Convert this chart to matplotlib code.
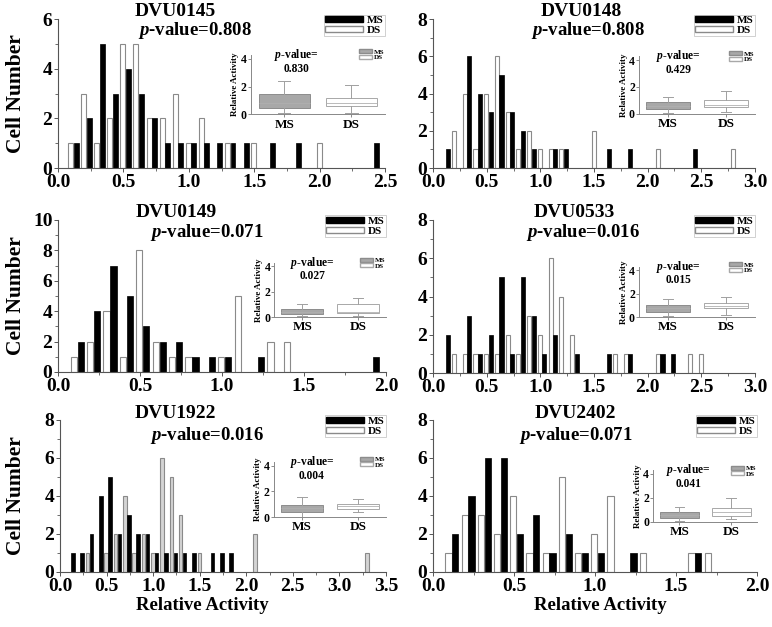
import matplotlib
matplotlib.use('Agg')
import matplotlib.pyplot as plt
from matplotlib.patches import Patch
import numpy as np

plt.rcParams['font.family'] = ['Liberation Serif', 'DejaVu Serif']
plt.rcParams['font.weight'] = 'bold'
plt.rcParams['mathtext.fontset'] = 'custom'
plt.rcParams['mathtext.it'] = 'Liberation Serif:italic:bold'
plt.rcParams['mathtext.rm'] = 'Liberation Serif:bold'
plt.rcParams['mathtext.bf'] = 'Liberation Serif:bold'

# ---------------- data ----------------
gene_names = ["DVU0145", "DVU0148", "DVU0149", "DVU0533", "DVU1922", "DVU2402"]
hist_pvalues = ["0.808", "0.808", "0.071", "0.016", "0.016", "0.071"]
box_pvalues = ["0.830", "0.429", "0.027", "0.015", "0.004", "0.041"]
x_max = [2.5, 3.0, 2.0, 3.0, 3.5, 2.0]
y_max = [6, 8, 10, 8, 8, 8]

ms_bins_0145 = [0.1, 0.2, 0.3, 0.4, 0.5, 0.6, 0.7, 0.8, 0.9, 1.0, 1.1, 1.2, 1.3, 1.4, 1.6, 1.8, 2.4]
ms_counts_0145 = [1, 2, 5, 3, 4, 3, 2, 1, 1, 1, 1, 1, 1, 1, 1, 1, 1]
ds_bins_0145 = [0.1, 0.2, 0.3, 0.4, 0.5, 0.6, 0.7, 0.8, 0.9, 1.0, 1.1, 1.3, 1.5, 2.0]
ds_counts_0145 = [1, 3, 1, 2, 5, 5, 2, 2, 3, 1, 2, 1, 1, 1]

ms_bins_0148 = [0.1, 0.3, 0.4, 0.5, 0.6, 0.7, 0.8, 0.9, 1.1, 1.2, 1.6, 1.8, 2.4]
ms_counts_0148 = [1, 6, 4, 3, 5, 3, 2, 1, 1, 1, 1, 1, 1]
ds_bins_0148 = [0.2, 0.3, 0.4, 0.5, 0.6, 0.7, 0.8, 0.9, 1.0, 1.1, 1.2, 1.5, 2.1, 2.8]
ds_counts_0148 = [2, 4, 1, 4, 6, 3, 1, 2, 1, 1, 1, 2, 1, 1]

ms_bins_0149 = [0.1, 0.2, 0.3, 0.4, 0.5, 0.6, 0.7, 0.8, 0.9, 1.0, 1.2, 1.9]
ms_counts_0149 = [2, 4, 7, 5, 3, 2, 2, 1, 1, 1, 1, 1]
ds_bins_0149 = [0.1, 0.2, 0.3, 0.4, 0.5, 0.6, 0.7, 0.8, 1.0, 1.1, 1.3, 1.4]
ds_counts_0149 = [1, 2, 4, 1, 8, 2, 1, 1, 1, 5, 2, 2]

ms_bins_0533 = [0.1, 0.3, 0.4, 0.5, 0.6, 0.7, 0.8, 0.9, 1.0, 1.1, 1.3, 1.6, 1.8, 2.1, 2.2]
ms_counts_0533 = [2, 3, 1, 2, 5, 1, 5, 3, 1, 2, 1, 1, 1, 1, 1]
ds_bins_0533 = [0.2, 0.3, 0.4, 0.5, 0.6, 0.7, 0.8, 0.9, 1.0, 1.1, 1.2, 1.3, 1.7, 1.8, 2.1, 2.4, 2.5]
ds_counts_0533 = [1, 1, 1, 1, 1, 2, 1, 3, 2, 6, 4, 2, 1, 1, 1, 1, 1]

ms_bins_1922 = [0.1, 0.2, 0.3, 0.4, 0.5, 0.6, 0.7, 0.8, 0.9, 1.0, 1.1, 1.2, 1.3, 1.4, 1.6, 1.7, 1.8]
ms_counts_1922 = [1, 1, 2, 4, 5, 2, 3, 2, 2, 1, 1, 1, 1, 1, 1, 1, 1]
ds_bins_1922 = [0.3, 0.5, 0.6, 0.7, 0.8, 0.9, 1.0, 1.1, 1.2, 1.3, 1.5, 2.1, 3.3]
ds_counts_1922 = [1, 1, 2, 4, 1, 2, 1, 6, 5, 3, 1, 2, 1]

ms_bins_2402 = [0.1, 0.2, 0.3, 0.4, 0.5, 0.6, 0.7, 0.8, 0.9, 1.0, 1.2, 1.6]
ms_counts_2402 = [2, 4, 6, 6, 2, 3, 1, 2, 1, 1, 1, 1]
ds_bins_2402 = [0.1, 0.2, 0.3, 0.4, 0.5, 0.6, 0.7, 0.8, 0.9, 1.0, 1.1, 1.3, 1.6, 1.7]
ds_counts_2402 = [1, 3, 3, 2, 4, 1, 1, 5, 1, 2, 4, 1, 1, 1]

# box stats: [whisker low, q1, median, q3, whisker high]
ms_box_0145 = [0.1, 0.48, 0.85, 1.45, 2.4]
ds_box_0145 = [0.1, 0.6, 0.85, 1.2, 2.15]
ms_box_0148 = [0.05, 0.38, 0.6, 0.9, 1.28]
ds_box_0148 = [0.13, 0.46, 0.62, 1.03, 1.67]
ms_box_0149 = [0.1, 0.26, 0.45, 0.65, 1.04]
ds_box_0149 = [0.13, 0.34, 0.44, 1.04, 1.48]
ms_box_0533 = [0.09, 0.43, 0.75, 1.06, 1.57]
ds_box_0533 = [0.2, 0.77, 0.95, 1.23, 1.7]
ms_box_1922 = [0.05, 0.38, 0.7, 0.93, 1.55]
ds_box_1922 = [0.38, 0.63, 0.85, 1.05, 1.45]
ms_box_2402 = [0.1, 0.36, 0.55, 0.82, 1.23]
ds_box_2402 = [0.27, 0.47, 0.82, 1.18, 2.0]

ms_bins = [ms_bins_0145, ms_bins_0148, ms_bins_0149, ms_bins_0533, ms_bins_1922, ms_bins_2402]
ms_counts = [ms_counts_0145, ms_counts_0148, ms_counts_0149, ms_counts_0533, ms_counts_1922, ms_counts_2402]
ds_bins = [ds_bins_0145, ds_bins_0148, ds_bins_0149, ds_bins_0533, ds_bins_1922, ds_bins_2402]
ds_counts = [ds_counts_0145, ds_counts_0148, ds_counts_0149, ds_counts_0533, ds_counts_1922, ds_counts_2402]
ms_boxes = [ms_box_0145, ms_box_0148, ms_box_0149, ms_box_0533, ms_box_1922, ms_box_2402]
ds_boxes = [ds_box_0145, ds_box_0148, ds_box_0149, ds_box_0533, ds_box_1922, ds_box_2402]

# ---------------- layout ----------------
W, H = 772, 627
fig = plt.figure(figsize=(W / 100, H / 100), dpi=100)

def fr(x0, x1, ytop, ybot):
    return [x0 / W, 1 - ybot / H, (x1 - x0) / W, (ybot - ytop) / H]

axes_rects = [fr(58, 385, 19, 168), fr(433, 755, 19, 168),
              fr(58, 386, 220, 372), fr(433, 755, 220, 373),
              fr(60, 386, 420, 572), fr(433, 757, 420, 572)]
inset_rects = [[0.59, 0.36, 0.41, 0.40], [0.64, 0.365, 0.36, 0.385],
               [0.66, 0.36, 0.34, 0.36], [0.64, 0.366, 0.36, 0.33],
               [0.655, 0.36, 0.345, 0.365], [0.68, 0.33, 0.32, 0.34]]
title_pos = [(0.36, 1.05), (0.46, 1.05), (0.36, 1.05), (0.44, 1.05), (0.355, 1.04), (0.44, 1.04)]
p_pos = [(0.42, 0.92), (0.48, 0.92), (0.455, 0.915), (0.465, 0.92), (0.45, 0.90), (0.44, 0.90)]
ds_faces = ['white', 'white', 'white', 'white', '#d4d4d4', 'white']

MS_OFF, DS_OFF, BW = 0.038, -0.004, 0.038

for i in range(6):
    ax = fig.add_axes(axes_rects[i])
    ax.bar(np.array(ds_bins[i]) + DS_OFF, ds_counts[i], width=BW, color=ds_faces[i],
           edgecolor='#8a8a8a', linewidth=0.8)
    ax.bar(np.array(ms_bins[i]) + MS_OFF, ms_counts[i], width=BW, color='black',
           edgecolor='black', linewidth=0.5)
    for s in ['top', 'right']:
        ax.spines[s].set_visible(False)
    for s in ['left', 'bottom']:
        ax.spines[s].set_color('#555555')
        ax.spines[s].set_linewidth(0.8)
    ax.set_xlim(0, x_max[i])
    ax.set_ylim(0, y_max[i])
    xt = np.arange(0, x_max[i] + 0.01, 0.5)
    ax.set_xticks(xt)
    ax.set_xticklabels([f'{v:.1f}' for v in xt], fontsize=14, fontweight='bold')
    ax.set_xticks(np.arange(0.25, x_max[i], 0.5), minor=True)
    yt = np.arange(0, y_max[i] + 1, 2)
    ax.set_yticks(yt)
    ax.set_yticklabels([str(v) for v in yt], fontsize=14, fontweight='bold')
    ax.set_yticks(np.arange(1, y_max[i], 2), minor=True)
    ax.tick_params(axis='both', which='major', length=3, width=0.7, colors='#555555',
                   labelcolor='black', pad=1)
    ax.tick_params(axis='both', which='minor', length=2, width=0.6, colors='#555555')

    ax.text(title_pos[i][0], title_pos[i][1], gene_names[i], transform=ax.transAxes,
            ha='center', va='center', fontsize=14, fontweight='bold')
    ax.text(p_pos[i][0], p_pos[i][1], r'$p$-value=' + hist_pvalues[i], transform=ax.transAxes,
            ha='center', va='center', fontsize=13.5, fontweight='bold')

    handles = [Patch(facecolor='black', edgecolor='black', label='MS'),
               Patch(facecolor='white', edgecolor='#8a8a8a', label='DS')]
    leg = ax.legend(handles=handles, loc='upper right', bbox_to_anchor=(1.0, 1.03),
                    fontsize=8, frameon=True, fancybox=False, handlelength=3.4,
                    handleheight=0.45, borderpad=0.15, labelspacing=0.05,
                    handletextpad=0.3, borderaxespad=0.0)
    leg.get_frame().set_edgecolor('#bbbbbb')
    leg.get_frame().set_linewidth(0.6)

    # inset box plot
    ins = ax.inset_axes(inset_rects[i])
    ins.set_facecolor('none')
    stats = []
    for b, lab in [(ms_boxes[i], 'MS'), (ds_boxes[i], 'DS')]:
        stats.append({'whislo': b[0], 'q1': b[1], 'med': b[2], 'q3': b[3],
                      'whishi': b[4], 'fliers': [], 'label': lab})
    bp = ins.bxp(stats, positions=[1, 2], widths=0.75, patch_artist=True,
                 showfliers=False, capwidths=0.18,
                 whiskerprops=dict(color='#a0a0a0', linewidth=0.7),
                 capprops=dict(color='#a0a0a0', linewidth=0.7),
                 medianprops=dict(color='#b0b0b0', linewidth=0.6))
    bp['boxes'][0].set_facecolor('#a8a8a8')
    bp['boxes'][0].set_edgecolor('#8c8c8c')
    bp['boxes'][1].set_facecolor('white')
    bp['boxes'][1].set_edgecolor('#a8a8a8')
    for b in bp['boxes']:
        b.set_linewidth(0.7)
    ins.set_xlim(0.5, 2.5)
    ins.set_ylim(0, 4.3)
    ins.set_yticks([0, 2, 4])
    ins.set_yticklabels(['0', '2', '4'], fontsize=8.5, fontweight='bold')
    ins.set_xticks([1, 2])
    ins.set_xticklabels(['MS', 'DS'], fontsize=9.5, fontweight='bold')
    ins.tick_params(axis='both', length=2, width=0.6, colors='#777777', labelcolor='black', pad=1)
    for s in ['top', 'right']:
        ins.spines[s].set_visible(False)
    for s in ['left', 'bottom']:
        ins.spines[s].set_color('#888888')
        ins.spines[s].set_linewidth(0.7)
    ins.set_ylabel('Relative Activity', fontsize=6.5, fontweight='bold', labelpad=1)
    ins.annotate(r'$p$-value=', xy=(0.34, 1.0), xycoords='axes fraction',
                 xytext=(0, 0), textcoords='offset points',
                 ha='center', va='center', fontsize=8.3, fontweight='bold')
    ins.annotate(box_pvalues[i], xy=(0.34, 1.0), xycoords='axes fraction',
                 xytext=(0, -10), textcoords='offset points',
                 ha='center', va='center', fontsize=8.3, fontweight='bold')
    ih = [Patch(facecolor='#a8a8a8', edgecolor='#8c8c8c', label='MS'),
          Patch(facecolor='white', edgecolor='#a8a8a8', label='DS')]
    ins.legend(handles=ih, loc='upper right', bbox_to_anchor=(1.0, 1.1),
               fontsize=5, frameon=False, handlelength=2.0, handleheight=0.5,
               borderpad=0.1, labelspacing=0.0, handletextpad=0.2, borderaxespad=0.0)

# shared labels
for yc in [94, 296, 496]:
    fig.text(16 / W, 1 - yc / H, 'Cell Number', rotation=90, ha='center', va='center',
             fontsize=15.5, fontweight='bold')
for xc in [202, 600]:
    fig.text(xc / W, 1 - 605 / H, 'Relative Activity', ha='center', va='center',
             fontsize=13.5, fontweight='bold')

fig.savefig('out.png', dpi=100)
